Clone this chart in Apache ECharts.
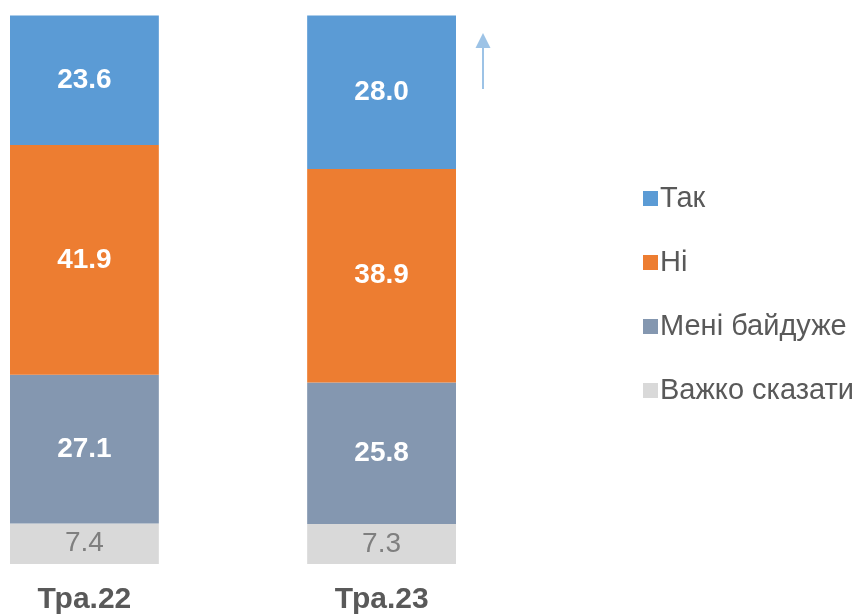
<!DOCTYPE html>
<html><head><meta charset="utf-8">
<script src="https://cdn.jsdelivr.net/npm/echarts@6/dist/echarts.min.js"></script>
<style>html,body{margin:0;padding:0;background:#fff}#c{width:857px;height:615px}</style>
</head><body><div id="c"></div>
<script>
const categories = ['Тра.22', 'Тра.23'];
const seriesNames = ['Так', 'Ні', 'Мені байдуже', 'Важко сказати'];
const tak = [23.6, 28.0];
const ni = [41.9, 38.9];
const bajduzhe = [27.1, 25.8];
const vazhko = [7.4, 7.3];

const FONT = '"Liberation Sans", Arial, sans-serif';
const colors = {'Так':'#5B9BD5','Ні':'#ED7D31','Мені байдуже':'#8497B0','Важко сказати':'#D9D9D9'};
// axis with an empty spacer slot between the two periods
const axisCats = [categories[0], '', categories[1]];
const withGap = arr => [arr[0], '-', arr[1]];
function mk(name, data, labelColor, bold) {
  return {
    name, type: 'bar', stack: 'a', data: withGap(data), barWidth: 149,
    itemStyle: {color: colors[name]},
    label: {show: true, position: 'inside', color: labelColor, fontFamily: FONT, fontSize: 28,
      fontWeight: bold ? 'bold' : 'normal', formatter: p => Number(p.value).toFixed(1)},
    emphasis: {disabled: true}
  };
}
const chart = echarts.init(document.getElementById('c'), null, {renderer: 'canvas'});
chart.setOption({
  animation: false,
  grid: {left: 10, width: 446, top: 15.5, height: 552},
  xAxis: {type: 'category', data: axisCats, axisLine: {show: false}, axisTick: {show: false},
    axisLabel: {interval: 0, margin: 21, color: '#595959', fontFamily: FONT, fontSize: 30, fontWeight: 'bold'}},
  yAxis: {type: 'value', min: 0, max: 100, show: false},
  legend: {
    data: seriesNames,
    orient: 'vertical', left: 638, top: 179, itemWidth: 15, itemHeight: 15, itemGap: 35,
    icon: 'rect',
    textStyle: {color: '#595959', fontFamily: FONT, fontSize: 29, lineHeight: 29, padding: [0,0,0,-3]}
  },
  series: [
    mk('Важко сказати', vazhko, '#7F7F7F', false),
    mk('Мені байдуже', bajduzhe, '#FFFFFF', true),
    mk('Ні', ni, '#FFFFFF', true),
    mk('Так', tak, '#FFFFFF', true)
  ],
  graphic: [
    {type: 'line', shape: {x1: 483, y1: 46, x2: 483, y2: 89}, style: {stroke: '#9DC3E6', lineWidth: 2}},
    {type: 'polygon', shape: {points: [[483, 33], [475.5, 48], [490.5, 48]]}, style: {fill: '#9DC3E6'}}
  ]
});
</script></body></html>
